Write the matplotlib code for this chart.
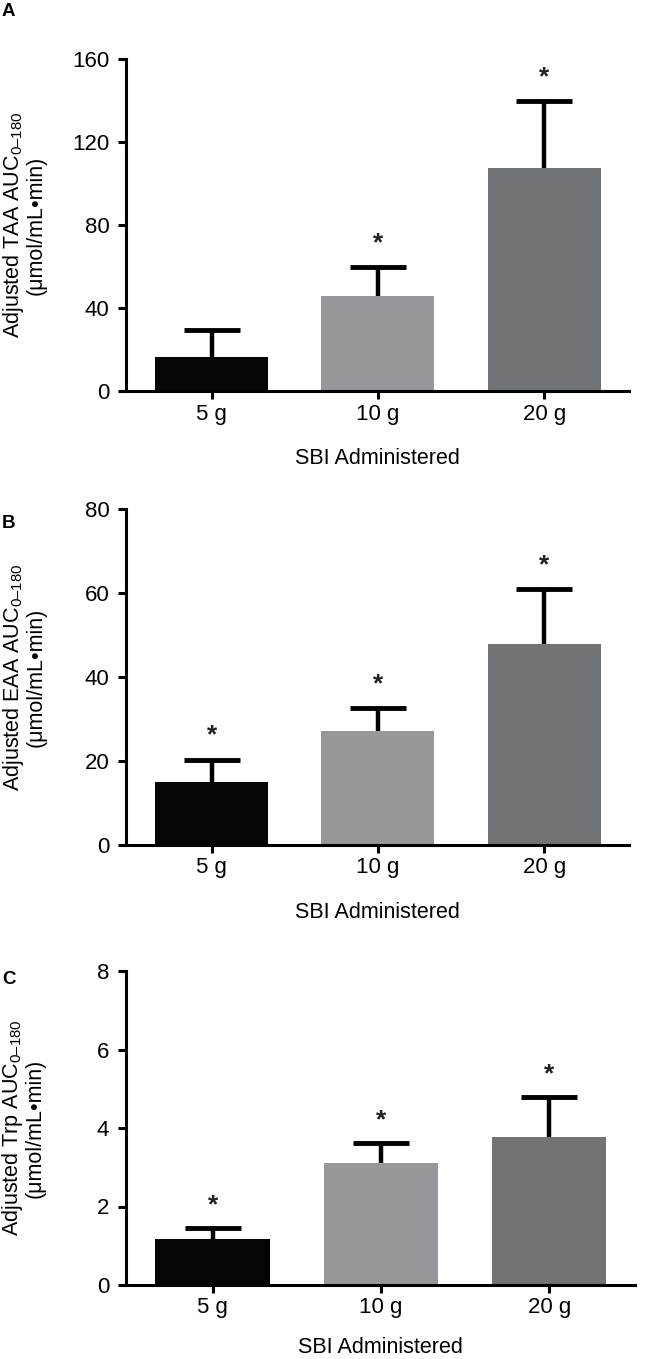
import numpy as np
import matplotlib
matplotlib.use("Agg")
import matplotlib.pyplot as plt

plt.rcParams['font.family'] = ['Liberation Sans', 'DejaVu Sans']
plt.rcParams['mathtext.fontset'] = 'custom'
plt.rcParams['mathtext.rm'] = 'Liberation Sans'

doses = ["5 g", "10 g", "20 g"]
colors = ["#050505", "#97989c", "#717476"]

# panel data: mean and upper SEM
taa_mean = [16.3, 45.6, 107.6]
taa_sem = [13.0, 14.0, 32.2]
taa_star = [False, True, True]

eaa_mean = [15.1, 27.2, 47.8]
eaa_sem = [5.2, 5.4, 13.1]
eaa_star = [True, True, True]

trp_mean = [1.16, 3.11, 3.77]
trp_sem = [0.30, 0.50, 1.02]
trp_star = [True, True, True]

panels = [
    ("A", "TAA", taa_mean, taa_sem, taa_star, 160, [0, 40, 80, 120, 160]),
    ("B", "EAA", eaa_mean, eaa_sem, eaa_star, 80, [0, 20, 40, 60, 80]),
    ("C", "Trp", trp_mean, trp_sem, trp_star, 8, [0, 2, 4, 6, 8]),
]

W, H = 648, 1359
fig = plt.figure(figsize=(W / 100, H / 100), dpi=100)

# axes boxes in pixels: left, right, top, bottom
boxes = [(126, 629, 59, 391), (126, 629, 509, 845), (126, 635, 971, 1285)]
letter_y = [11, 523, 980]
xlab_pad = [17, 17, 13]

x = np.arange(len(doses))
for (letter, name, mean, sem, star, ymax, yticks), (l, r, t, b), ly, lp in zip(panels, boxes, letter_y, xlab_pad):
    ax = fig.add_axes([l / W, 1 - b / H, (r - l) / W, (b - t) / H])
    mean = np.array(mean)
    sem = np.array(sem)
    ax.bar(x, mean, width=0.68, color=colors, zorder=2)
    # upper error bars only
    ax.vlines(x, mean, mean + sem, color='black', lw=3.2, zorder=3)
    ax.plot(x, mean + sem, ls='none', marker='_', ms=40, mew=3.5, color='black', zorder=3)
    for xi, m, s, st in zip(x, mean, sem, star):
        if st:
            ax.text(xi, m + s + 0.072 * ymax, "*", ha='center', va='center',
                    fontsize=19, fontweight='bold', color='#222222')
    ax.set_xlim(-0.515, 2.51)
    ax.set_ylim(0, ymax)
    ax.set_yticks(yticks)
    ax.set_xticks(x)
    ax.set_xticklabels(doses)
    for sp in ['top', 'right']:
        ax.spines[sp].set_visible(False)
    for sp in ['left', 'bottom']:
        ax.spines[sp].set_linewidth(2.2)
    ax.tick_params(axis='both', width=2.2, length=6, labelsize=16, pad=3)
    ax.tick_params(axis='y', pad=6)
    ylab = "Adjusted " + name + " AUC$_{\\mathregular{0\u2013180}}$" + "\n(\u03bcmol/mL\u2022min)"
    ax.set_ylabel(ylab, fontsize=15.5, linespacing=0.95)
    ax.yaxis.set_label_coords(-0.158, 0.5)
    ax.set_xlabel("SBI Administered", fontsize=15.5, labelpad=lp)
    fig.text(2 / W, 1 - ly / H, letter, fontsize=13.5, fontweight='bold',
             ha='left', va='center')

fig.savefig("out.png", dpi=100)
